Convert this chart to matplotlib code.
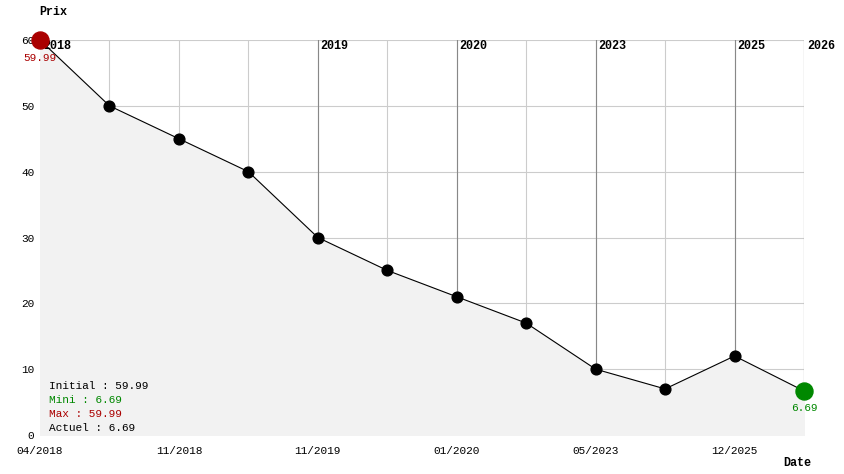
import matplotlib
matplotlib.use("Agg")
import matplotlib.pyplot as plt

prices = [59.99, 50, 45, 40, 30, 25, 21, 17, 10, 7, 12, 6.69]
bottom_labels = ["04/2018", "11/2018", "11/2019", "01/2020", "05/2023", "12/2025"]
bottom_idx = [0, 2, 4, 6, 8, 10]
year_labels = ["2018", "2019", "2020", "2023", "2025", "2026"]
year_idx = [0, 4, 6, 8, 10, 11]

plt.rcParams['font.family'] = ['Liberation Mono', 'DejaVu Sans Mono']
fig = plt.figure(figsize=(8.44, 4.74), dpi=100)
ax = fig.add_axes([40/844, 1-435/474, 764/844, 395/474])
x = list(range(len(prices)))
ax.set_xlim(0, len(prices)-1)
ax.set_ylim(0, 60)
ax.fill_between(x, prices, 0, color='#f2f2f2', zorder=1)
for i in x:
    ax.axvline(i, color='#cccccc', lw=0.8, zorder=0)
for y in range(10, 61, 10):
    ax.axhline(y, color='#cccccc', lw=0.8, zorder=0)
for i, lab in zip(year_idx, year_labels):
    ax.axvline(i, color='#888888', lw=0.8, zorder=0.5)
    ax.text(i + 0.04, 58.2, lab, fontsize=8.5, fontweight='bold', va='bottom', ha='left', zorder=2)
ax.plot(x, prices, color='black', lw=0.8, zorder=3)
ax.scatter(x[1:-1], prices[1:-1], s=60, color='black', zorder=4)
ax.scatter([0], [prices[0]], s=150, color='#aa0000', zorder=5, clip_on=False)
ax.scatter([x[-1]], [prices[-1]], s=150, color='#008800', zorder=5, clip_on=False)
ax.text(0, prices[0]-1.9, "59.99", color='#aa0000', fontsize=8, ha='center', va='top', zorder=6)
ax.text(x[-1], prices[-1]-1.9, "6.69", color='#008800', fontsize=8, ha='center', va='top')
ax.set_xticks(bottom_idx)
ax.set_xticklabels(bottom_labels, fontsize=8)
ax.set_yticks(range(0, 61, 10))
ax.tick_params(axis='y', labelsize=8, length=0, pad=4)
ax.tick_params(axis='x', length=0, pad=8)
for s in ax.spines.values():
    s.set_visible(False)
fig.text(39/844, 1-12/474, "Prix", fontsize=8.5, fontweight='bold', va='center')
fig.text(783/844, 1-463/474, "Date", fontsize=8.5, fontweight='bold', va='center')
legend = [("Initial : 59.99", 'black'), ("Mini : 6.69", '#008800'),
          ("Max : 59.99", '#aa0000'), ("Actuel : 6.69", 'black')]
for k, (t, c) in enumerate(legend):
    fig.text(49/844, 1-(386+14*k)/474, t, color=c, fontsize=8, va='center')
fig.savefig("out.png", dpi=100)
